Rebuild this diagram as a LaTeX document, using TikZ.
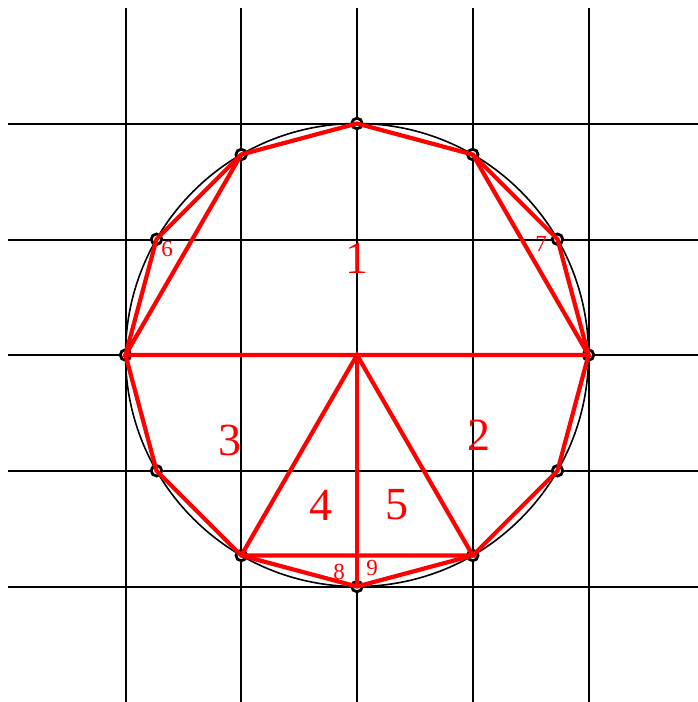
\documentclass[tikz,border=0pt]{standalone}
\usepackage{fontspec}
\setmainfont{Liberation Serif}
\begin{document}
\begin{tikzpicture}[x=1pt,y=-1pt,
  gridline/.style={black,line width=2pt},
  circ/.style={black,line width=1.6pt},
  dot/.style={circle,draw=black,fill=white,line width=2.8pt,minimum size=10.5pt,inner sep=0pt},
  redline/.style={red,line width=4.2pt,line join=miter},
  big/.style={red,font=\fontsize{46}{46}\selectfont,inner sep=0pt},
  small/.style={red,font=\fontsize{23}{23}\selectfont,inner sep=0pt}]
\useasboundingbox (0,0) rectangle (698,702);
% grid
\foreach \g in {126,241,357,473,589}{
  \draw[gridline] (\g,8) -- (\g,702);
}
\foreach \g in {124,240,355,471,587}{
  \draw[gridline] (8,\g) -- (698,\g);
}
\coordinate (c) at (357,355);
\draw[circ] (c) circle (231.5);
% points (p0 right, counter-clockwise)
\foreach \k in {0,...,11}{
  \coordinate (p\k) at ([shift={(357,355)}]-30*\k:231.5);
}
\foreach \k in {0,...,11}{
  \node[dot] (d\k) at (p\k) {};
}
% red polygon
\draw[redline] (p0) -- (p1) -- (p2) -- (p3) -- (p4) -- (p5) -- (p6) -- (p7) -- (p8) -- (p9) -- (p10) -- (p11) -- cycle;
\draw[redline] (p4) -- (p6) -- (p0) -- (p2);
\draw[redline] (p8) -- (c) -- (p10) -- (p8);
\draw[redline] (c) -- (p9);
% labels
\node[big] (l1) at (357,258) {1};
\node[big] (l2) at (479,435) {2};
\node[big] (l3) at (230,440) {3};
\node[big] (l4) at (321,505) {4};
\node[big] (l5) at (397,505) {5};
\node[small] (l6) at (167,249) {6};
\node[small] (l7) at (541,244) {7};
\node[small] (l8) at (339,572) {8};
\node[small] (l9) at (372,568) {9};
\end{tikzpicture}
\end{document}
